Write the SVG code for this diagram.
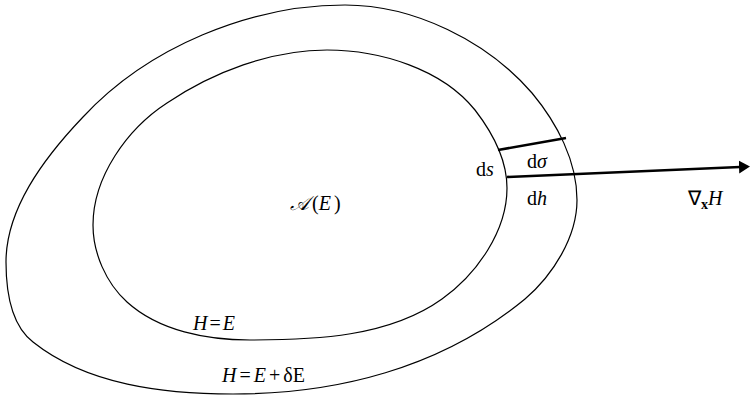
<svg xmlns="http://www.w3.org/2000/svg" width="750" height="399" viewBox="0 0 750 399">
<style>
.c{fill:none;stroke:#000;stroke-width:1.2}
.t{font-family:"Liberation Serif","Times New Roman",serif;font-size:20px;fill:#000}
.i{font-style:italic}
.thick{stroke:#000;stroke-width:2.6;fill:none}
</style>
<defs>
<marker id="ah" markerWidth="11" markerHeight="14" refX="1" refY="7" orient="auto" markerUnits="userSpaceOnUse">
<path d="M0,0.5 L11,7 L0,13.5 Z" fill="#000"/>
</marker>
</defs>
<rect width="750" height="399" fill="#fff"/>
<g id="outer">
<path class="c" d="M 345,5 C 414,5 487,41 532,93 C 557,123 577,161 577,200 C 577,237 553,275 525,299 C 440,369 335,394 233,394 C 164,394 87,385 33,342 C 11,325 6,290 6,262 C 6,210 42,160 83,117 C 148,47 250,5 345,5 Z"/>
</g>
<g id="inner">
<path class="c" d="M 327,50 C 380,50 442,69 475,110 C 492,132 507,160 507,188 C 507,231 477,274 442,299 C 389,337 315,340 250,340 C 207,340 159,331 127,302 C 106,283 93,253 93,225 C 93,177 127,129 167,103 C 213,72 271,50 327,50 Z"/>
</g>
<g id="connectors">
<line class="thick" x1="498" y1="150" x2="566" y2="138"/>
<line class="thick" x1="507" y1="177" x2="740" y2="167" marker-end="url(#ah)"/>
</g>
<g id="labels">
<text class="t" x="476" y="176">d<tspan class="i">s</tspan></text>
<text class="t" x="527" y="168">d<tspan class="i">σ</tspan></text>
<text class="t" x="527" y="205">d<tspan class="i">h</tspan></text>
<text class="t" x="688" y="205">∇<tspan font-weight="bold" font-size="14" dy="4">x</tspan><tspan class="i" dy="-4">H</tspan></text>
<text class="t" x="290" y="210"><tspan class="i">𝒜</tspan><tspan dx="3">(</tspan><tspan class="i">E</tspan><tspan dx="3">)</tspan></text>
<text class="t" x="193" y="330"><tspan class="i">H</tspan><tspan dx="2">=</tspan><tspan class="i" dx="2">E</tspan></text>
<text class="t" x="222" y="382"><tspan class="i">H</tspan><tspan dx="3">=</tspan><tspan class="i" dx="3">E</tspan><tspan dx="3">+</tspan><tspan dx="3">δE</tspan></text>
</g>
</svg>
